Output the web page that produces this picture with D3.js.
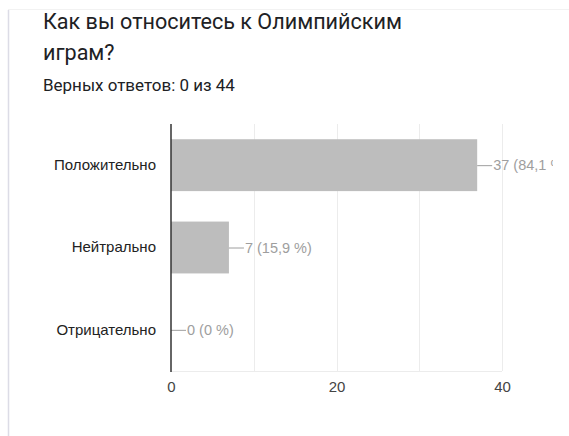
<!DOCTYPE html>
<html>
<head>
<meta charset="utf-8">
<script src="https://cdn.jsdelivr.net/npm/d3@7"></script>
<style>
  html, body { margin: 0; padding: 0; background: #fff; }
  svg { display: block; }
</style>
</head>
<body>
<svg id="chart" width="569" height="436"></svg>
<script>
const title1 = "Как вы относитесь к Олимпийским";
const title2 = "играм?";
const subtitle = "Верных ответов: 0 из 44";
const categories = ["Положительно", "Нейтрально", "Отрицательно"];
const counts = [37, 7, 0];
const percentLabels = ["84,1 %", "15,9 %", "0 %"];
const tickValues = [0, 20, 40];
const gridValues = [0, 10, 20, 30, 40];
const xMax = 40;

(function () {
const svg = d3.select("#chart");

// card borders
svg.append("line").attr("x1", 8.5).attr("x2", 8.5).attr("y1", 10).attr("y2", 436)
  .attr("stroke", "#dcdce6").attr("stroke-width", 1.5);
svg.append("line").attr("x1", 8).attr("x2", 569).attr("y1", 9.5).attr("y2", 9.5)
  .attr("stroke", "#f2f2f2").attr("stroke-width", 1);

// title
const tf = "Roboto, 'Open Sans', sans-serif";
const t1 = svg.append("text").attr("x", 43).attr("y", 29)
  .attr("font-family", tf).attr("fill", "#202124")
  .attr("font-size", 20).text(title1);
const w = t1.node().getComputedTextLength();
const fs = 20 * 359 / w;
t1.attr("font-size", fs);
svg.append("text").attr("x", 43).attr("y", 60)
  .attr("font-family", tf).attr("fill", "#202124")
  .attr("font-size", fs).text(title2);

const st = svg.append("text").attr("x", 43).attr("y", 91)
  .attr("font-family", tf).attr("fill", "#202124")
  .attr("font-size", 13).text(subtitle);
const sw = st.node().getComputedTextLength();
st.attr("font-size", 13 * 192 / sw);

// chart
const pLeft = 171, pRight = 502, pTop = 124, pBottom = 371;
const x = d3.scaleLinear().domain([0, xMax]).range([pLeft, pRight]);
const y = d3.scaleBand().domain(categories).range([pTop, pBottom]).paddingInner(0.37).paddingOuter(0.185);

const font = "Arial, 'Liberation Sans', sans-serif";

// gridlines
svg.append("g").selectAll("line").data(gridValues.slice(1)).join("line")
  .attr("x1", d => Math.round(x(d)) + 0.5).attr("x2", d => Math.round(x(d)) + 0.5)
  .attr("y1", pTop).attr("y2", pBottom)
  .attr("stroke", "#ececec").attr("stroke-width", 1);
svg.append("line").attr("x1", pLeft).attr("x2", pRight).attr("y1", pBottom + 0.5).attr("y2", pBottom + 0.5)
  .attr("stroke", "#ececec");

// bars
svg.append("g").selectAll("rect").data(categories).join("rect")
  .attr("x", pLeft).attr("y", d => y(d))
  .attr("width", (d, i) => x(counts[i]) - pLeft)
  .attr("height", y.bandwidth())
  .attr("fill", "#bdbdbd");

// value labels with leaders
svg.append("clipPath").attr("id", "clip")
  .append("rect").attr("x", 0).attr("y", 0).attr("width", 553).attr("height", 436);
const lbl = svg.append("g").attr("clip-path", "url(#clip)");
categories.forEach((c, i) => {
  const cy = y(c) + y.bandwidth() / 2;
  const x0 = x(counts[i]);
  lbl.append("line").attr("x1", x0).attr("x2", x0 + 15).attr("y1", cy + 0.5).attr("y2", cy + 0.5)
    .attr("stroke", "#9e9e9e").attr("stroke-width", 1);
  lbl.append("text").attr("x", x0 + 16).attr("y", cy).attr("dy", "0.36em")
    .attr("font-family", font).attr("font-size", 14.5).attr("fill", "#9e9e9e")
    .text(`${counts[i]} (${percentLabels[i]})`);
});

// axis line
svg.append("line").attr("x1", pLeft).attr("x2", pLeft).attr("y1", pTop).attr("y2", pBottom + 1)
  .attr("stroke", "#333").attr("stroke-width", 1.5);

// category labels
const yAxis = d3.axisLeft(y).tickSize(0).tickPadding(15);
const gy = svg.append("g").attr("transform", `translate(${pLeft},0)`).call(yAxis);
gy.select(".domain").remove();
gy.selectAll("text").attr("font-family", font).attr("font-size", 15).attr("fill", "#222");

// x tick labels
const xAxis = d3.axisBottom(x).tickValues(tickValues).tickSize(0).tickPadding(10);
const gx = svg.append("g").attr("transform", `translate(0,${pBottom})`).call(xAxis);
gx.select(".domain").remove();
gx.selectAll("text").attr("font-family", font).attr("font-size", 15).attr("fill", "#444");
})();
</script>
</body>
</html>
